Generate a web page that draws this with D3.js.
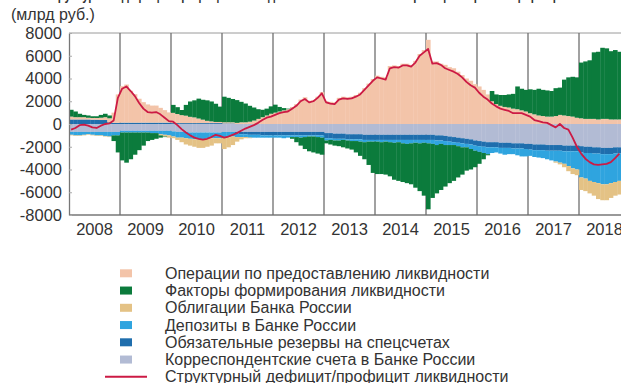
<!DOCTYPE html>
<html>
<head>
<meta charset="utf-8">
<script src="https://cdn.jsdelivr.net/npm/d3@7"></script>
<style>
  body { margin: 0; background: #fff; }
  svg { display: block; }
  text { font-family: "Liberation Sans", Arial, Helvetica, sans-serif; fill: #333; }
</style>
</head>
<body>
<svg id="chart" width="621" height="383"></svg>
<script>
// Monthly data, billions of rubles, Jan 2008 – Oct 2018
const years = [2008, 2009, 2010, 2011, 2012, 2013, 2014, 2015, 2016, 2017, 2018];
const yTicks = [8000, 6000, 4000, 2000, 0, -2000, -4000, -6000, -8000];

// Операции по предоставлению ликвидности
const ops = [
  250, 200, 200, 200, 150, 150, 150, 200, 250, 350, 900, 2500,
  3200, 3350, 2800, 2500, 2100, 1800, 1600, 1500, 1500, 1300, 1100, 900,
  900, 800, 700, 650, 550, 500, 400, 300, 200, 150, 100, 100,
  100, 100, 100, 100, 150, 150, 200, 300, 450, 600, 750, 900,
  1000, 1100, 1200, 1300, 1500, 1750, 2150, 2350, 2050, 2100, 2400, 2800,
  2000, 1950, 1900, 2300, 2400, 2350, 2400, 2550, 2750, 3150, 3550, 3950,
  4250, 4150, 4100, 5100, 5150, 5100, 5300, 5300, 5200, 5550, 6150, 6500,
  7400, 5500, 5500, 5300, 5200, 5000, 4900, 4600, 4300, 4000, 3800, 3500,
  3300, 3000, 2600, 2000, 1750, 1600, 1500, 1450, 1350, 1300, 1200, 1100,
  950, 850, 750, 700, 650, 650, 700, 800, 750, 700, 650, 550,
  500, 450, 450, 450, 400, 450, 450, 400, 400, 400
];

// Факторы формирования ликвидности
const factors = [
  600, 500, 300, 200, 200, 150, 150, 250, 300, 250, -500, -1500,
  -2450, -2650, -2350, -1950, -1550, -1150, -750, -600, -500, -200, -50, 0,
  700, 600, 450, 950, 1350, 1500, 1750, 1750, 1800, 1750, 1600, 1350,
  2250, 2150, 2050, 2000, 1800, 1650, 1400, 1150, 850, 650, 600, 650,
  700, 400, 200, 50, -150, -450, -700, -1050, -1300, -1400, -1450, -1500,
  -250, -400, -450, -500, -650, -700, -750, -1000, -1250, -1500, -2050, -2750,
  -2850, -2800, -2900, -3000, -3250, -3400, -3400, -3450, -3600, -3950, -4200, -4650,
  -5800, -4750, -4250, -4050, -3650, -3350, -3150, -2750, -2400, -2050, -1800, -1450,
  -1050, -550, -100, 900, 850, 950, 1050, 1150, 1300, 2000, 1900, 1900,
  2100, 2150, 2350, 2300, 2300, 2250, 2450, 2400, 3150, 3400, 3500, 3550,
  4900, 5050, 5150, 5850, 5950, 6250, 6200, 6000, 6100, 5950
];

// Облигации Банка России
const bonds = [
  -50, -50, -50, -50, -50, -50, -50, -50, -50, -50, 0, 0,
  0, 0, 0, 0, 0, 0, 0, 0, 0, -100, -150, -200,
  -150, -200, -400, -550, -600, -650, -750, -750, -700, -650, -450, -450,
  -1000, -900, -750, -400, -200, -100, -50, 0, 0, 0, 0, 0,
  0, 0, 0, 0, 0, 0, 0, 0, 0, 0, 0, 0,
  0, 0, 0, 0, 0, 0, 0, 0, 0, 0, 0, 0,
  0, 0, 0, 0, 0, 0, 0, 0, 0, 0, 0, 0,
  0, 0, 0, 0, 0, 0, 0, 0, 0, 0, 0, 0,
  0, 0, 0, 0, 0, 0, 0, 0, 0, 0, 0, 0,
  0, 0, 0, 0, 0, 0, -100, -150, -300, -450, -500, -500,
  -1100, -1100, -1100, -1200, -1400, -1400, -1400, -1300, -1200, -1200
];

// Депозиты в Банке России
const deposits = [
  -250, -300, -300, -250, -200, -250, -300, -300, -350, -400, -300, -300,
  -150, -150, -150, -150, -150, -150, -150, -200, -200, -300, -350, -400,
  -450, -500, -500, -550, -550, -600, -600, -600, -550, -500, -500, -500,
  -500, -450, -400, -300, -250, -250, -250, -250, -250, -200, -200, -200,
  -200, -200, -250, -200, -150, -150, -200, -150, -100, -100, -150, -200,
  -200, -150, -150, -150, -100, -100, -150, -150, -200, -200, -150, -150,
  -150, -200, -150, -200, -250, -200, -300, -350, -300, -250, -300, -250,
  -300, -350, -400, -300, -350, -300, -250, -300, -350, -300, -400, -450,
  -500, -550, -600, -500, -450, -500, -600, -550, -500, -600, -700, -650,
  -550, -600, -650, -700, -750, -850, -950, -1050, -1100, -1300, -1500, -1600,
  -2200, -2250, -2450, -2500, -2600, -2650, -2650, -2550, -2500, -2400
];

// Обязательные резервы на спецсчетах
const reserves = [
  400, 400, 400, 400, 400, 380, 380, 350, 350, 150, 100, 100,
  120, 120, 120, 120, 120, 120, 120, 120, 120, 120, 120, 120,
  80, 80, 80, 80, 80, 80, 80, 80, 80, 80, 80, 80,
  50, 50, 50, -150, -200, -200, -250, -250, -250, -300, -300, -300,
  -300, -300, -300, -300, -300, -300, -300, -300, -300, -300, -300, -300,
  -450, -450, -450, -450, -450, -450, -450, -450, -450, -450, -450, -450,
  -450, -450, -450, -450, -450, -450, -450, -450, -450, -450, -450, -450,
  -450, -450, -450, -450, -450, -450, -450, -450, -450, -450, -450, -450,
  -450, -450, -450, -450, -450, -450, -450, -450, -450, -450, -450, -450,
  -500, -500, -500, -500, -500, -500, -500, -500, -500, -500, -500, -500,
  -550, -550, -550, -550, -550, -550, -550, -550, -550, -550
];

// Корреспондентские счета в Банке России
const corr = [
  -700, -700, -700, -700, -700, -700, -700, -700, -700, -700, -700, -700,
  -600, -600, -600, -600, -600, -600, -600, -600, -600, -600, -600, -600,
  -650, -700, -700, -700, -750, -750, -750, -750, -750, -750, -750, -750,
  -700, -700, -700, -700, -700, -700, -700, -700, -700, -700, -700, -700,
  -700, -700, -700, -700, -700, -700, -700, -700, -700, -700, -700, -700,
  -800, -800, -850, -850, -850, -900, -900, -900, -900, -950, -950, -950,
  -950, -950, -950, -950, -950, -950, -950, -950, -950, -950, -950, -950,
  -950, -950, -1000, -1000, -1050, -1100, -1150, -1200, -1250, -1300, -1350, -1450,
  -1500, -1550, -1600, -1600, -1600, -1650, -1650, -1650, -1700, -1700, -1700, -1750,
  -1750, -1800, -1800, -1800, -1850, -1850, -1850, -1850, -1900, -1900, -1900, -1900,
  -1950, -2000, -2000, -2050, -2050, -2100, -2100, -2100, -2050, -2050
];

// Структурный дефицит/профицит ликвидности
const balance = [
  -500, -350, -100, -50, -150, -300, -350, -150, 0, 50, 300, 2300,
  3100, 3300, 2900, 2450, 1850, 1350, 1050, 1000, 1050, 850, 550, 250,
  200, -100, -450, -750, -1000, -1200, -1300, -1380, -1300, -1150, -950, -1050,
  -1200, -1100, -950, -800, -600, -400, -250, -100, 100, 350, 550, 650,
  800, 950, 1050, 1100, 1350, 1600, 2000, 2200, 1900, 2000, 2300, 2700,
  1900, 1800, 1750, 2150, 2250, 2200, 2250, 2400, 2600, 3000, 3400, 3800,
  4100, 4000, 3900, 4900, 5000, 4950, 5150, 5150, 5050, 5400, 6000, 6300,
  6600, 5300, 5350, 5200, 4900, 4750, 4600, 4400, 4100, 3700, 3400, 3200,
  2750, 2400, 2150, 1800, 1550, 1350, 1250, 1150, 950, 950, 950, 800,
  650, 350, 250, 150, 100, -100, -300, 0, -350, -500, -1200, -2000,
  -2600, -3050, -3350, -3550, -3600, -3550, -3500, -3350, -3000, -2600
];

const legendItems = [
  { key: "ops", label: "Операции по предоставлению ликвидности", color: "#f3c4a9" },
  { key: "factors", label: "Факторы формирования ликвидности", color: "#0b7b3c" },
  { key: "bonds", label: "Облигации Банка России", color: "#e4c285" },
  { key: "deposits", label: "Депозиты в Банке России", color: "#2fa4df" },
  { key: "reserves", label: "Обязательные резервы на спецсчетах", color: "#1f6ead" },
  { key: "corr", label: "Корреспондентские счета в Банке России", color: "#b2bbd4" }
];
const lineLabel = "Структурный дефицит/профицит ликвидности";
const lineColor = "#cc1a44";

// ---- layout ----
const svg = d3.select("#chart");
const plot = { left: 69, top: 33, bottom: 215, monthW: 4.25 };

const months = years.flatMap(y => d3.range(12).map(m => `${y}-${m + 1}`));
const x = d3.scaleBand()
  .domain(months)
  .range([plot.left, plot.left + months.length * plot.monthW])
  .padding(0);
const y = d3.scaleLinear().domain([-8000, 8000]).range([plot.bottom, plot.top]);

const rows = ops.map((v, i) => ({
  month: months[i],
  corr: corr[i], reserves: reserves[i], ops: v,
  deposits: deposits[i], bonds: bonds[i], factors: factors[i]
}));

const stackKeys = ["corr", "reserves", "ops", "deposits", "bonds", "factors"];
const colorOf = Object.fromEntries(legendItems.map(d => [d.key, d.color]));
const stacked = d3.stack().keys(stackKeys).offset(d3.stackOffsetDiverging)(rows);

// heading line running off the top edge, above the units caption
svg.append("text")
  .attr("x", 44).attr("y", 0)
  .attr("textLength", 556).attr("lengthAdjust", "spacingAndGlyphs")
  .style("font-size", "15px").style("font-weight", "bold")
  .text("Структурный дефицит/профицит ликвидности банковского сектора и факторы его формирования");

svg.append("text")
  .attr("x", 11).attr("y", 20)
  .style("font-size", "16px")
  .text("(млрд руб.)");

// frame and year separators (behind the bars)
const xEnd = plot.left + months.length * plot.monthW;
svg.append("line")
  .attr("x1", plot.left).attr("x2", xEnd)
  .attr("y1", plot.top).attr("y2", plot.top)
  .attr("stroke", "#9a9a9a").attr("stroke-width", 1);
svg.append("line")
  .attr("x1", plot.left).attr("x2", xEnd)
  .attr("y1", plot.bottom).attr("y2", plot.bottom)
  .attr("stroke", "#777").attr("stroke-width", 1.3);

svg.append("g").selectAll("line")
  .data(years.slice(1))
  .join("line")
  .attr("x1", d => x(`${d}-1`)).attr("x2", d => x(`${d}-1`))
  .attr("y1", plot.top).attr("y2", plot.bottom)
  .attr("stroke", "#6f6f6f").attr("stroke-width", 1.3);

// stacked bars
svg.append("g").selectAll("g")
  .data(stacked)
  .join("g")
  .attr("fill", d => colorOf[d.key])
  .selectAll("rect")
  .data(d => d)
  .join("rect")
  .attr("x", d => x(d.data.month))
  .attr("width", x.bandwidth() + 0.35)
  .attr("y", d => y(Math.max(d[0], d[1])))
  .attr("height", d => Math.abs(y(d[0]) - y(d[1])));

// y axis
const yAxis = svg.append("g")
  .attr("transform", `translate(${plot.left},0)`)
  .call(d3.axisLeft(y).tickValues(yTicks).tickSizeInner(-3).tickSizeOuter(0)
    .tickPadding(7).tickFormat(d => String(d)));
yAxis.select(".domain").attr("stroke", "#777").attr("stroke-width", 1.3);
yAxis.selectAll(".tick line").attr("stroke", "#aaa");
yAxis.selectAll(".tick text")
  .style("font-size", "16.5px")
  .attr("fill", "#333")
  .style("font-family", '"Liberation Sans", Arial, sans-serif');

// year labels
svg.append("g").selectAll("text")
  .data(years)
  .join("text")
  .attr("x", d => x(`${d}-1`) + 6 * plot.monthW)
  .attr("y", 235)
  .attr("text-anchor", "middle")
  .style("font-size", "16.5px")
  .text(d => d);

// structural balance line
const line = d3.line()
  .x((d, i) => x(months[i]) + x.bandwidth() / 2)
  .y(d => y(d));
svg.append("path")
  .datum(balance)
  .attr("fill", "none")
  .attr("stroke", lineColor)
  .attr("stroke-width", 1.8)
  .attr("stroke-linejoin", "round")
  .attr("d", line);

// legend
const legend = svg.append("g");
const rowY = i => 273.3 + i * 17.25;
legendItems.forEach((d, i) => {
  legend.append("rect")
    .attr("x", 120).attr("y", rowY(i) - 4)
    .attr("width", 12).attr("height", 8)
    .attr("fill", d.color);
  legend.append("text")
    .attr("x", 165).attr("y", rowY(i) + 5.5)
    .style("font-size", "16px")
    .text(d.label);
});
const li = legendItems.length;
legend.append("line")
  .attr("x1", 105).attr("x2", 147)
  .attr("y1", rowY(li)).attr("y2", rowY(li))
  .attr("stroke", lineColor).attr("stroke-width", 2);
legend.append("text")
  .attr("x", 165).attr("y", rowY(li) + 5.5)
  .style("font-size", "16px")
  .text(lineLabel);
</script>
</body>
</html>
